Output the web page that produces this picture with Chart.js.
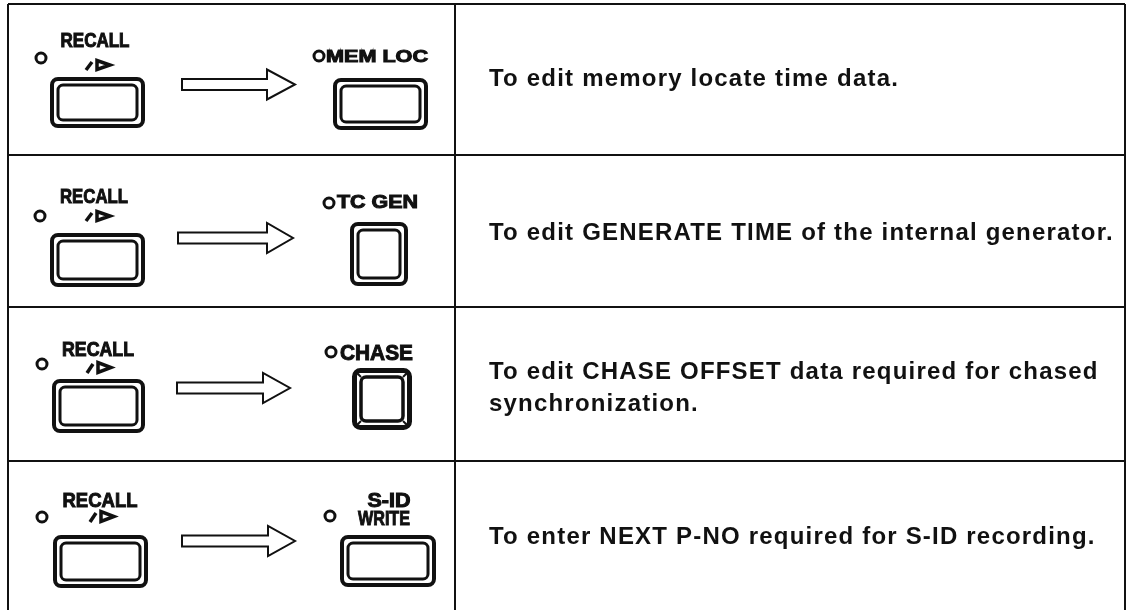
<!DOCTYPE html>
<html>
<head>
<meta charset="utf-8">
<script src="https://cdn.jsdelivr.net/npm/chart.js@4.4.1/dist/chart.umd.min.js"></script>
<style>
  html, body { margin: 0; padding: 0; background: #fff; }
  canvas { display: block; }
</style>
</head>
<body>
<canvas id="keys" width="1128" height="610"></canvas>
<script>
// ---- table structure (page units) ----
const colEdges = [8, 455, 1125];
const rowEdges = [4, 155, 307, 461];
const pageBottom = 610;

// ---- cell contents ----
const sourceKey = 'RECALL';
const targetKeys = [['MEM LOC'], ['TC GEN'], ['CHASE'], ['S-ID', 'WRITE']];
const descriptions = [
  ['To edit memory locate time data.'],
  ['To edit GENERATE TIME of the internal generator.'],
  ['To edit CHASE OFFSET data required for chased', 'synchronization.'],
  ['To enter NEXT P-NO required for S-ID recording.']
];

// ---- where each key drawing sits inside its row ----
// label: [centerX, baseline, width, capHeight]
const keyLayout = [
  { recall: [95, 47, 69, 14], play: [86, 59, 71], led: [41, 58], btn: [50, 77, 145, 128],
    arrow: [182, 267, 295, 84.5], tLed: [319, 56], tLabels: [[377, 62, 102, 12]],
    tBtn: [333, 78, 428, 130], heavy: false, text: [86] },
  { recall: [94, 203, 68, 15], play: [86, 210, 222], led: [40, 216], btn: [50, 233, 145, 287],
    arrow: [178, 267, 293, 238], tLed: [329, 203], tLabels: [[377.5, 208, 81, 13]],
    tBtn: [350, 222, 408, 286], heavy: false, text: [240] },
  { recall: [98, 356, 72, 14], play: [87, 361, 374], led: [42, 364], btn: [52, 379, 145, 433],
    arrow: [177, 263, 290, 388], tLed: [331, 352], tLabels: [[376.5, 360, 73, 16]],
    tBtn: [352, 368, 412, 430], heavy: true, text: [379, 411] },
  { recall: [100, 507, 75, 15], play: [90, 510, 523], led: [42, 517], btn: [53, 535, 148, 588],
    arrow: [182, 268, 295, 541], tLed: [330, 516], tLabels: [[389, 507, 43, 14], [384, 525, 52, 15]],
    tBtn: [340, 535, 436, 587], heavy: false, text: [544] }
];

const INK = '#111';
const textLeft = 489;

const ledPoints = keyLayout.flatMap(k => [
  { x: k.led[0], y: k.led[1] },
  { x: k.tLed[0], y: k.tLed[1] }
]);

function roundRect(ctx, x1, y1, x2, y2, r) {
  ctx.beginPath();
  ctx.moveTo(x1 + r, y1);
  ctx.arcTo(x2, y1, x2, y2, r);
  ctx.arcTo(x2, y2, x1, y2, r);
  ctx.arcTo(x1, y2, x1, y1, r);
  ctx.arcTo(x1, y1, x2, y1, r);
  ctx.closePath();
}

// stretch/squeeze a label so it covers the width seen on the panel
function fitLabel(ctx, text, cx, base, width, cap) {
  const size = cap / 0.72;
  ctx.save();
  ctx.font = `bold ${size}px "Liberation Sans", Arial, sans-serif`;
  const natural = ctx.measureText(text).width;
  ctx.translate(cx, base);
  ctx.scale(width / natural, 1);
  ctx.textAlign = 'center';
  ctx.textBaseline = 'alphabetic';
  ctx.fillStyle = INK;
  ctx.strokeStyle = INK;
  ctx.lineWidth = 1;
  ctx.fillText(text, 0, 0);
  ctx.strokeText(text, 0, 0);
  ctx.restore();
}

const keyPanel = {
  id: 'keyPanel',
  afterDraw(chart) {
    const { ctx, scales: { x, y } } = chart;
    const X = v => x.getPixelForValue(v);
    const Y = v => y.getPixelForValue(v);

    keyLayout.forEach((k, i) => {
      ctx.save();
      ctx.strokeStyle = INK;
      ctx.fillStyle = INK;

      // RECALL key label and the "/ ▷" mark
      fitLabel(ctx, sourceKey, X(k.recall[0]), Y(k.recall[1]), k.recall[2], k.recall[3]);
      const [px, pTop, pBot] = k.play;
      ctx.lineWidth = 3.5;
      ctx.lineCap = 'butt';
      ctx.beginPath();
      ctx.moveTo(X(px), Y(pBot - 1));
      ctx.lineTo(X(px + 6), Y(pTop + 3));
      ctx.stroke();
      ctx.lineJoin = 'miter';
      ctx.beginPath();
      ctx.moveTo(X(px + 11), Y(pTop + 1.5));
      ctx.lineTo(X(px + 11), Y(pBot - 1.5));
      ctx.lineTo(X(px + 24), Y((pTop + pBot) / 2));
      ctx.closePath();
      ctx.stroke();

      // key bodies
      [[k.btn, false], [k.tBtn, k.heavy]].forEach(([b, heavy]) => {
        const [x1, y1, x2, y2] = b.map((v, j) => (j % 2 ? Y(v) : X(v)));
        const ow = heavy ? 5 : 4;
        ctx.lineWidth = ow;
        roundRect(ctx, x1 + ow / 2, y1 + ow / 2, x2 - ow / 2, y2 - ow / 2, 6);
        ctx.stroke();
        const inset = ow + 4;
        ctx.lineWidth = heavy ? 3.5 : 3;
        roundRect(ctx, x1 + inset, y1 + inset, x2 - inset, y2 - inset, 5);
        ctx.stroke();
        if (heavy) {
          ctx.lineWidth = 2;
          [[x1 + 3, y1 + 3, x1 + inset, y1 + inset], [x2 - 3, y1 + 3, x2 - inset, y1 + inset],
           [x1 + 3, y2 - 3, x1 + inset, y2 - inset], [x2 - 3, y2 - 3, x2 - inset, y2 - inset]]
            .forEach(([a, b2, c, d]) => { ctx.beginPath(); ctx.moveTo(a, b2); ctx.lineTo(c, d); ctx.stroke(); });
        }
      });

      // hollow arrow
      const [ax0, axb, atip, ay] = k.arrow;
      const shaft = 5.5, head = 15;
      ctx.lineWidth = 2;
      ctx.beginPath();
      ctx.moveTo(X(ax0), Y(ay - shaft));
      ctx.lineTo(X(axb), Y(ay - shaft));
      ctx.lineTo(X(axb), Y(ay - head));
      ctx.lineTo(X(atip), Y(ay));
      ctx.lineTo(X(axb), Y(ay + head));
      ctx.lineTo(X(axb), Y(ay + shaft));
      ctx.lineTo(X(ax0), Y(ay + shaft));
      ctx.closePath();
      ctx.stroke();

      // target key label(s)
      targetKeys[i].forEach((t, j) => {
        const l = k.tLabels[j];
        fitLabel(ctx, t, X(l[0]), Y(l[1]), l[2], l[3]);
      });

      // description text
      ctx.font = 'bold 24px "Liberation Sans", Arial, sans-serif';
      ctx.letterSpacing = '1.2px';
      ctx.textAlign = 'left';
      ctx.textBaseline = 'alphabetic';
      descriptions[i].forEach((line, j) => {
        ctx.fillText(line, X(textLeft), Y(k.text[j]));
      });
      ctx.restore();
    });
  }
};

new Chart(document.getElementById('keys'), {
  type: 'scatter',
  data: {
    datasets: [{
      label: 'indicators',
      data: ledPoints,
      pointStyle: 'circle',
      pointRadius: 5,
      pointHoverRadius: 5,
      borderWidth: 3,
      borderColor: INK,
      backgroundColor: '#fff'
    }]
  },
  options: {
    responsive: false,
    animation: false,
    devicePixelRatio: 1,
    events: [],
    layout: {
      autoPadding: false,
      padding: { left: colEdges[0], right: 1128 - colEdges[2], top: rowEdges[0], bottom: 0 }
    },
    plugins: { legend: { display: false }, tooltip: { enabled: false } },
    scales: {
      x: {
        type: 'linear',
        min: colEdges[0],
        max: colEdges[colEdges.length - 1],
        afterBuildTicks: s => { s.ticks = colEdges.map(v => ({ value: v })); },
        ticks: { display: false },
        grid: { color: INK, lineWidth: 2, drawTicks: false },
        border: { display: false }
      },
      y: {
        type: 'linear',
        reverse: true,
        min: rowEdges[0],
        max: pageBottom,
        afterBuildTicks: s => { s.ticks = rowEdges.map(v => ({ value: v })); },
        ticks: { display: false },
        grid: { color: INK, lineWidth: 2, drawTicks: false },
        border: { display: false }
      }
    }
  },
  plugins: [keyPanel]
});
</script>
</body>
</html>
